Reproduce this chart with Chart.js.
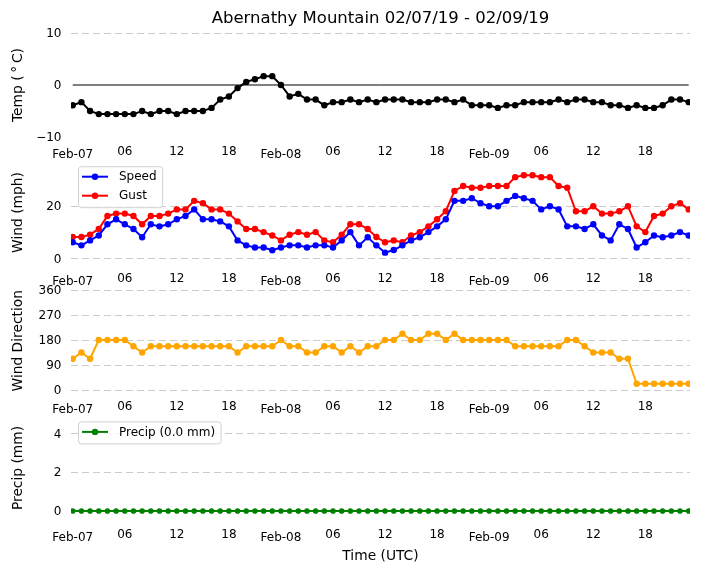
<!DOCTYPE html>
<html><head><meta charset="utf-8">
<script src="https://cdn.jsdelivr.net/npm/chart.js@4.4.0/dist/chart.umd.min.js"></script>
<style>
html,body{margin:0;padding:0;background:#fff;}
#wrap{position:relative;width:704px;height:573px;background:#fff;}
#wrap canvas{position:absolute;left:0;top:0;}
</style></head><body>
<div id="wrap">
<canvas id="c1" width="704" height="573"></canvas>
<canvas id="c2" width="704" height="573"></canvas>
<canvas id="c3" width="704" height="573"></canvas>
<canvas id="c4" width="704" height="573"></canvas>
</div>
<script>
// ---- data ----
const titleText = 'Abernathy Mountain 02/07/19 - 02/09/19';
const hours = [0,1,2,3,4,5,6,7,8,9,10,11,12,13,14,15,16,17,18,19,20,21,22,23,
  24,25,26,27,28,29,30,31,32,33,34,35,36,37,38,39,40,41,42,43,44,45,46,47,
  48,49,50,51,52,53,54,55,56,57,58,59,60,61,62,63,64,65,66,67,68,69,70,71];
const tickHours = [0,6,12,18,24,30,36,42,48,54,60,66];
const tickLabels = ['Feb-07','06','12','18','Feb-08','06','12','18','Feb-09','06','12','18'];

const tempC = [-3.9,-3.3,-5.0,-5.6,-5.6,-5.6,-5.6,-5.6,-5.0,-5.6,-5.0,-5.0,-5.6,-5.0,-5.0,-5.0,-4.4,-2.8,-2.2,-0.6,
  0.6,1.1,1.7,1.7,0.0,-2.2,-1.7,-2.8,-2.8,-3.9,-3.3,-3.3,-2.8,-3.3,-2.8,-3.3,-2.8,-2.8,-2.8,-3.3,
  -3.3,-3.3,-2.8,-2.8,-3.3,-2.8,-3.9,-3.9,-3.9,-4.4,-3.9,-3.9,-3.3,-3.3,-3.3,-3.3,-2.8,-3.3,-2.8,-2.8,
  -3.3,-3.3,-3.9,-3.9,-4.4,-3.9,-4.4,-4.4,-3.9,-2.8,-2.8,-3.3];
const windSpeed = [6.2,5.0,6.9,8.8,13.1,15.0,13.1,11.3,8.1,13.1,12.3,13.1,15.0,16.3,18.8,15.0,15.0,14.2,12.3,6.9,
  5.0,4.2,4.2,3.1,4.2,5.0,5.0,4.2,5.0,5.0,4.2,6.9,10.1,5.0,8.1,5.0,2.2,3.2,5.0,6.9,
  8.1,10.1,12.3,15.0,22.1,22.1,23.1,21.2,20.0,20.0,22.1,24.0,23.1,22.1,18.8,20.0,18.8,12.3,12.3,11.3,
  13.1,8.8,6.9,13.1,11.3,4.2,6.2,8.8,8.1,8.8,10.1,8.8];
const windGust = [8.2,8.2,9.1,11.3,16.3,17.2,17.2,16.3,13.1,16.3,16.3,17.2,18.8,18.8,22.1,21.2,18.8,18.8,17.2,14.2,
  11.3,11.3,10.1,8.8,6.9,9.1,10.1,9.1,10.1,6.9,6.2,9.1,13.1,13.1,11.3,8.2,6.2,6.9,6.2,8.8,
  10.1,12.3,15.0,18.1,25.9,27.8,27.1,27.1,27.8,27.8,27.8,31.2,31.9,31.9,31.2,31.2,27.8,27.1,18.1,18.1,
  20.0,17.2,17.2,18.1,20.0,12.3,10.1,16.3,17.2,20.0,21.2,18.8];
const windDir = [112.5,135,112.5,180,180,180,180,157.5,135,157.5,157.5,157.5,157.5,157.5,157.5,157.5,157.5,157.5,157.5,135,
  157.5,157.5,157.5,157.5,180,157.5,157.5,135,135,157.5,157.5,135,157.5,135,157.5,157.5,180,180,202.5,180,
  180,202.5,202.5,180,202.5,180,180,180,180,180,180,157.5,157.5,157.5,157.5,157.5,157.5,180,180,157.5,
  135,135,135,112.5,112.5,22.5,22.5,22.5,22.5,22.5,22.5,22.5];
const precipMM = [0,0,0,0,0,0,0,0,0,0,0,0,0,0,0,0,0,0,0,0,0,0,0,0,
  0,0,0,0,0,0,0,0,0,0,0,0,0,0,0,0,0,0,0,0,0,0,0,0,
  0,0,0,0,0,0,0,0,0,0,0,0,0,0,0,0,0,0,0,0,0,0,0,0];

const tempTicks = [-10, 0, 10];
const windTicks = [0, 20];
const dirTicks = [0, 90, 180, 270, 360];
const precipTicks = [0, 2, 4];

// ---- styling ----
const FONT = 'DejaVu Sans';
Chart.defaults.font.family = FONT;
Chart.defaults.color = '#000';
const GRID = '#cccccc';

const mplLegend = {
  id: 'mplLegend',
  afterDatasetsDraw(chart, args, opts) {
    if (!opts || !opts.display) return;
    const ctx = chart.ctx, a = chart.chartArea;
    const items = chart.data.datasets.filter(d => d.label);
    ctx.save();
    ctx.font = '12px "' + FONT + '"';
    const left = a.left + 7.5, top = a.top + 5.2;
    const rowH = 19, padTop = 10, padBottom = 12;
    let tw = 0;
    items.forEach(d => { tw = Math.max(tw, ctx.measureText(d.label).width); });
    const textX = left + 40.5;
    const w = textX - left + tw + 6;
    const h = padTop + rowH * (items.length - 1) + padBottom;
    ctx.beginPath();
    ctx.roundRect(left, top, w, h, 3);
    ctx.fillStyle = 'rgba(255,255,255,0.8)';
    ctx.fill();
    ctx.strokeStyle = 'rgba(204,204,204,0.9)';
    ctx.lineWidth = 1;
    ctx.stroke();
    items.forEach((d, i) => {
      const cy = top + padTop + i * rowH;
      ctx.strokeStyle = d.borderColor; ctx.lineWidth = 2;
      ctx.beginPath(); ctx.moveTo(left + 3.5, cy); ctx.lineTo(left + 29.5, cy); ctx.stroke();
      ctx.fillStyle = d.borderColor;
      ctx.beginPath(); ctx.arc(left + 16.5, cy, 3.2, 0, Math.PI * 2); ctx.fill();
      ctx.fillStyle = '#000'; ctx.textBaseline = 'middle'; ctx.textAlign = 'left';
      ctx.fillText(d.label, textX, cy + 0.5);
    });
    ctx.restore();
  }
};

function xAxis(height, title) {
  return {
    type: 'linear', min: -0.2, max: 71.15,
    grid: { display: false, drawTicks: false },
    border: { display: false },
    afterBuildTicks: s => { s.ticks = tickHours.map(v => ({ value: v })); },
    afterFit: s => { s.height = height; },
    ticks: {
      autoSkip: false, maxRotation: 0, minRotation: 0, padding: 8, color: '#000',
      font: c => ({ family: FONT, size: 12,
        lineHeight: (c && c.index !== undefined && tickLabels[c.index] && tickLabels[c.index].startsWith('Feb')) ? 1.7 : 1.2 }),
      callback: (v, i) => tickLabels[i]
    },
    title: title ? { display: true, text: title, font: { family: FONT, size: 13.8 }, color: '#000', padding: { top: 0, bottom: 4.3 } } : { display: false }
  };
}

function yAxis(min, max, ticksArr, title, gridColorFn) {
  return {
    type: 'linear', min: min, max: max,
    afterBuildTicks: s => { s.ticks = ticksArr.map(v => ({ value: v })); },
    afterFit: s => { s.width = 71; },
    grid: { drawTicks: false, lineWidth: 1, color: gridColorFn || GRID },
    border: { display: false, dash: [7, 4] },
    ticks: { padding: 9.5, labelOffset: 1, color: '#000', font: { family: FONT, size: 12 },
      callback: v => String(v).replace('-', '\u2212') },
    title: { display: true, text: title, font: { family: FONT, size: 13.8 }, color: '#000', padding: { top: 10.5, bottom: 0 } }
  };
}

function lineDs(label, data, color, radius) {
  return { label: label, data: data, borderColor: color, backgroundColor: color,
    pointBackgroundColor: color, pointBorderWidth: 0, pointRadius: radius || 3.2,
    borderWidth: 2, tension: 0, fill: false };
}

function makeChart(id, datasets, scales, padding, extraPlugins) {
  return new Chart(document.getElementById(id), {
    type: 'line',
    data: { labels: hours, datasets: datasets },
    options: {
      responsive: false, animation: false, devicePixelRatio: 1,
      layout: { padding: padding },
      scales: scales,
      plugins: Object.assign({ legend: { display: false }, tooltip: { enabled: false } }, extraPlugins || {})
    },
    plugins: [mplLegend]
  });
}

// Panel 1: temperature
const zeroLine = [{ x: hours[0], y: 0 }, { x: hours[hours.length - 1], y: 0 }];
makeChart('c1', [
  { data: zeroLine, borderColor: '#000', borderWidth: 1, pointRadius: 0, tension: 0 },
  Object.assign(lineDs('', tempC, '#000'), { label: undefined })
], {
  x: xAxis(30),
  y: yAxis(-10, 10, tempTicks, 'Temp (\u2009\u00B0\u2009C)', c => (c.tick && c.tick.value === 10) ? GRID : 'rgba(0,0,0,0)')
}, { top: 0, left: 0, right: 14, bottom: 406 }, {
  title: { display: true, text: titleText, fullSize: false, color: '#000',
    font: { family: FONT, size: 16.5, weight: 'normal' }, padding: { top: 9, bottom: 4.2 } },
  mplLegend: { display: false }
});

// Panel 2: wind
makeChart('c2', [
  lineDs('Speed', windSpeed, '#0000ff'),
  lineDs('Gust', windGust, '#ff0000')
], {
  x: xAxis(30),
  y: yAxis(-2.0, 37.2, windTicks, 'Wind (mph)')
}, { top: 161.5, left: 0, right: 14, bottom: 279.4 }, { mplLegend: { display: true } });

// Panel 3: wind direction
makeChart('c3', [
  Object.assign(lineDs('', windDir, '#ffa500'), { label: undefined })
], {
  x: xAxis(30),
  y: yAxis(-5.4, 360, dirTicks, 'Wind Direction')
}, { top: 290, left: 0, right: 14, bottom: 151.5 }, { mplLegend: { display: false } });

// Panel 4: precip
const precipTotal = precipMM.reduce((a, b) => a + b, 0);
makeChart('c4', [
  lineDs('Precip (' + precipTotal.toFixed(1) + ' mm)', precipMM, '#008000', 2.8)
], {
  x: xAxis(50, 'Time (UTC)'),
  y: yAxis(-0.43, 4.86, precipTicks, 'Precip (mm)')
}, { top: 416.7, left: 0, right: 14, bottom: 3.7 }, { mplLegend: { display: true } });
</script>
</body></html>
